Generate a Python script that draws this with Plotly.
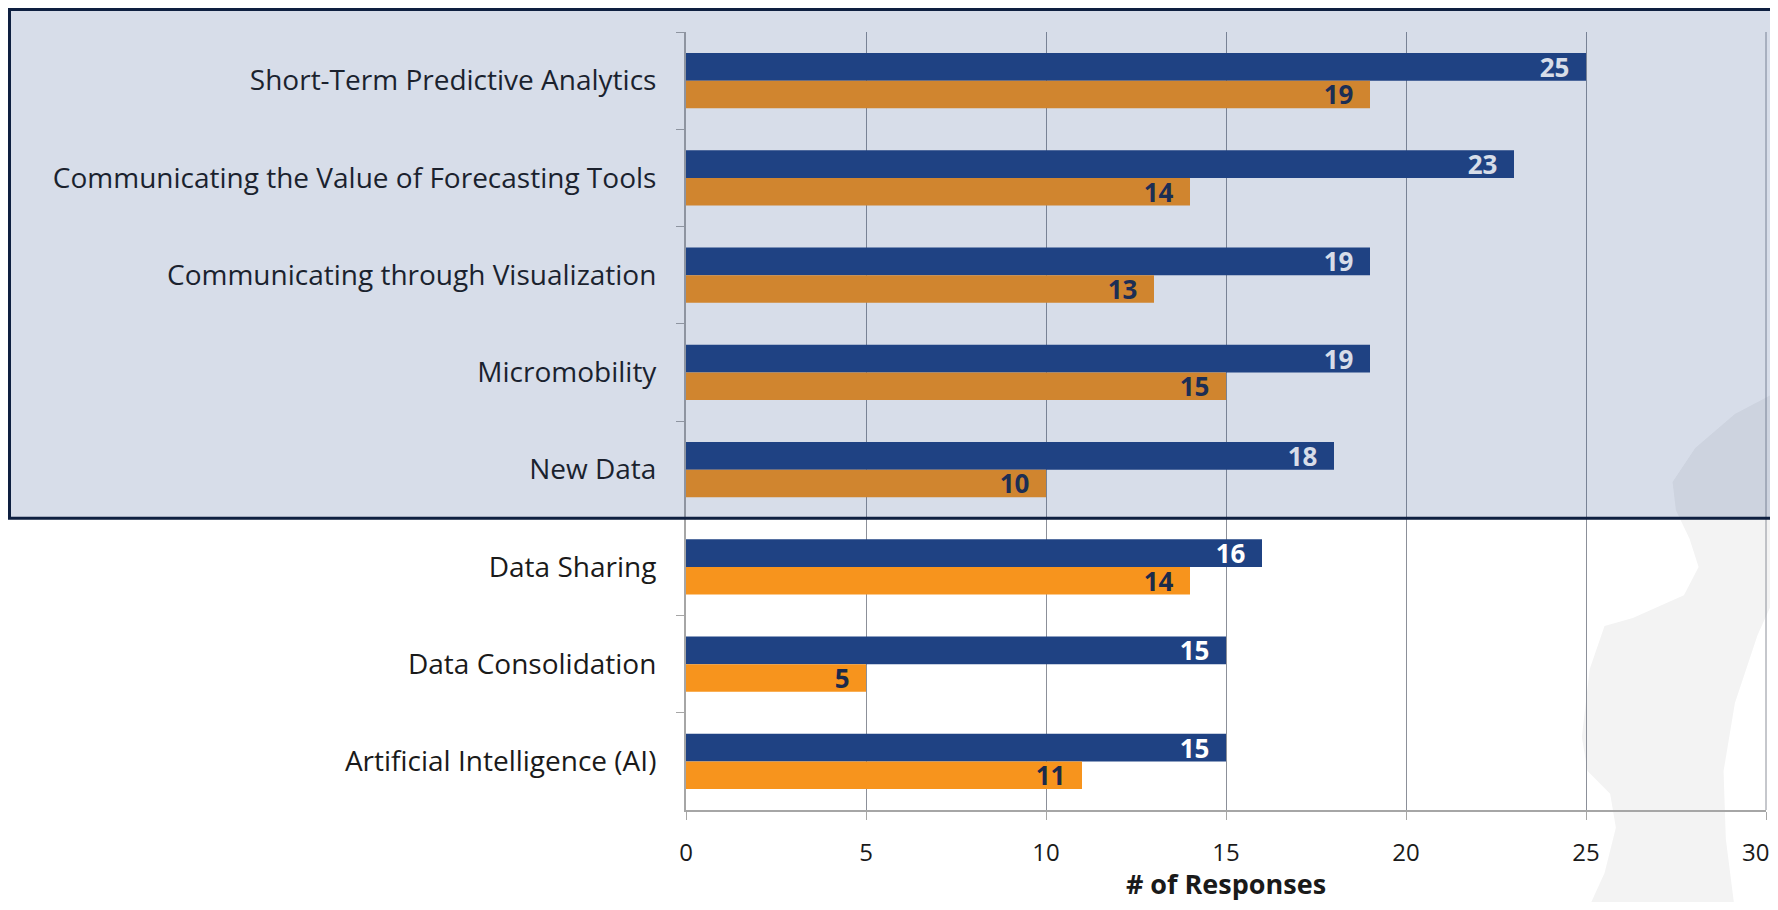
import plotly.graph_objects as go

categories = [
    "Short-Term Predictive Analytics",
    "Communicating the Value of Forecasting Tools",
    "Communicating through Visualization",
    "Micromobility",
    "New Data",
    "Data Sharing",
    "Data Consolidation",
    "Artificial Intelligence (AI)",
]
series_a = [25, 23, 19, 19, 18, 16, 15, 15]   # blue
series_b = [19, 14, 13, 15, 10, 14, 5, 11]    # orange
x_ticks = [0, 5, 10, 15, 20, 25, 30]

# page has an 8px body margin; figure sized so the page never overflows the window
OFF = 8
W, H = 1778 - 2 * OFF, 910 - 2 * OFF
PLOT_L, PLOT_R, PLOT_T, PLOT_B = 686, 1766, 32, 810   # page pixels
ML, MT = PLOT_L - OFF, PLOT_T - OFF
MR = W - (PLOT_R - OFF)
MB = H - (PLOT_B - OFF)
PW, PH = W - ML - MR, H - MT - MB


def px2paper(x, y):
    """page pixel -> paper coords"""
    fx, fy = x - OFF, y - OFF
    return (fx - ML) / PW, (H - MB - fy) / PH


fig = go.Figure()
fig.add_trace(go.Bar(
    y=categories, x=series_a, orientation="h", name="A",
    marker=dict(color="#1F4283", line=dict(width=0)),
    text=series_a, texttemplate="%{x}\u00a0\u00a0", textposition="inside",
    insidetextanchor="end", textangle=0,
    textfont=dict(family="Open Sans", size=26, color="#FFFFFF", weight="bold"),
    constraintext="none", cliponaxis=False,
))
fig.add_trace(go.Bar(
    y=categories, x=series_b, orientation="h", name="B",
    marker=dict(color="#F7941D", line=dict(width=0)),
    text=series_b, texttemplate="%{x}\u00a0\u00a0", textposition="inside",
    insidetextanchor="end", textangle=0,
    textfont=dict(family="Open Sans", size=26, color="#1B2A4A", weight="bold"),
    constraintext="none", cliponaxis=False,
))

# gear watermark (decorative), coords scaled from reference
s = 1778 / 1568
gear_pts = [(1568, 345), (1530, 365), (1495, 395), (1475, 425), (1478, 450), (1490, 475),
            (1498, 500), (1485, 525), (1440, 545), (1415, 552), (1402, 590), (1395, 650),
            (1400, 680), (1420, 700), (1425, 730), (1415, 770), (1400, 803), (1530, 803),
            (1522, 740), (1520, 680), (1530, 620), (1550, 560), (1568, 520)]
path = ""
for i, (gx, gy) in enumerate(gear_pts):
    px_, py_ = px2paper(gx * s, gy * s)
    path += ("M" if i == 0 else "L") + f"{px_:.4f},{py_:.4f} "
path += "Z"

shapes = [
    dict(type="path", xref="paper", yref="paper", path=path, fillcolor="#F3F3F3",
         line=dict(width=0), layer="below"),
    # right-edge gridline at 30 (plot boundary)
    dict(type="line", xref="paper", yref="paper", x0=1, x1=1, y0=0, y1=1,
         line=dict(color="#8C9099", width=1), layer="below"),
]
bx0, _ = px2paper(9.5, 0)
bx1, by1 = px2paper(1782, OFF + 1.5)
shapes.append(dict(type="rect", xref="paper", yref="paper", x0=bx0, x1=bx1, y0=3 / 8, y1=by1,
                   fillcolor="rgba(31,66,131,0.18)", line=dict(color="#0E1F40", width=3),
                   layer="above"))

# last tick label sits on the page edge: draw it right-aligned so it stays inside the page
annotations = [dict(
    xref="x", x=x_ticks[-1], xanchor="right", xshift=4,
    yref="paper", y=0, yanchor="top", yshift=-24,
    text=str(x_ticks[-1]), showarrow=False, borderpad=0,
    font=dict(family="Open Sans", size=24, color="#1A1A1A"),
)]

fig.update_layout(
    width=W, height=H,
    margin=dict(l=ML, r=MR, t=MT, b=MB, autoexpand=False),
    paper_bgcolor="white", plot_bgcolor="rgba(0,0,0,0)",
    barmode="group", bargap=0.433, bargroupgap=0,
    showlegend=False,
    shapes=shapes,
    annotations=annotations,
    font=dict(family="Open Sans", color="#1A1A1A"),
    xaxis=dict(
        range=[0, 30], tickvals=x_ticks, ticktext=[str(v) for v in x_ticks],
        automargin=False,
        showgrid=True, gridcolor="#8C9099", gridwidth=1, zeroline=False,
        showline=True, linecolor="#A6A6A6", linewidth=2,
        ticks="outside", ticklen=8, tickcolor="#A6A6A6", ticklabelstandoff=12,
        tickfont=dict(size=24, color="#1A1A1A"),
        title=dict(text="<b># of Responses</b>", font=dict(size=27, color="#1A1A1A"), standoff=22),
    ),
    yaxis=dict(
        autorange="reversed", type="category", automargin=False,
        showline=True, linecolor="#A6A6A6", linewidth=2,
        ticks="outside", tickson="boundaries", ticklen=8, tickcolor="#A6A6A6",
        ticklabelstandoff=22, showgrid=False,
        tickfont=dict(size=28, color="#1A1A1A"),
    ),
)

fig.write_html("out.html")
